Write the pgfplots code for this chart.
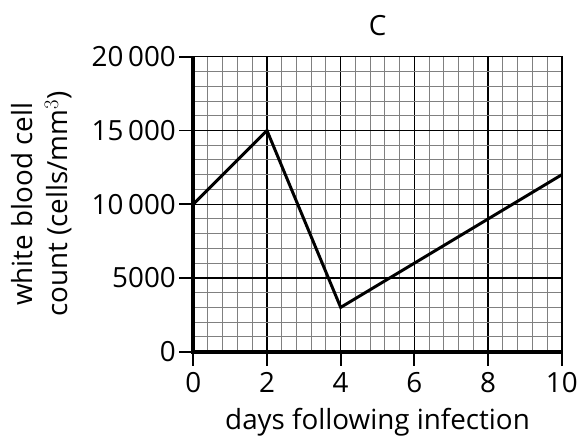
\documentclass[border=0pt]{standalone}
\usepackage{fontspec}
\setmainfont{Open Sans}
\usepackage{pgfplots}
\pgfplotsset{compat=1.18}
\begin{document}
\begin{tikzpicture}
\begin{axis}[
  scale only axis,
  width=370bp, height=296bp,
  xmin=0, xmax=10, ymin=0, ymax=20000,
  xtick={0,2,4,6,8,10},
  ytick={0,5000,10000,15000,20000},
  yticklabels={0,5000,10\,000,15\,000,20\,000},
  minor x tick num=4,
  minor y tick num=4,
  grid=both,
  major grid style={black, line width=1.4bp},
  minor grid style={black!50, line width=1bp},
  axis line style={line width=1.4bp, black},
  tick pos=left,
  tick align=outside,
  major tick length=14bp,
  minor tick length=0pt,
  major tick style={black, line width=1.8bp},
  scaled y ticks=false,
  /pgf/number format/assume math mode=true,
  tick label style={font=\fontsize{28}{30}\selectfont},
  label style={font=\fontsize{28}{30}\selectfont},
  title style={font=\fontsize{28}{30}\selectfont, yshift=12bp},
  xticklabel style={yshift=-3bp},
  title={C},
  xlabel={days following infection},
  xlabel style={yshift=-9bp},
  ylabel={\begin{tabular}{c}white blood cell\\[3bp]count (cells/mm$^{3}$)\end{tabular}},
  ylabel style={yshift=9bp},
  clip=false,
]
\addplot[black, line width=3bp, line join=miter] coordinates {(0,10000) (2,15000) (4,3000) (10,12000)};
\draw[black, line width=4bp, line cap=butt] (rel axis cs:0,1) -- (rel axis cs:0,0) -- (rel axis cs:1,0);
\end{axis}
\path (current axis.south west) ++(-194bp,-85bp) rectangle ++(581bp,438bp);
\end{tikzpicture}
\end{document}
